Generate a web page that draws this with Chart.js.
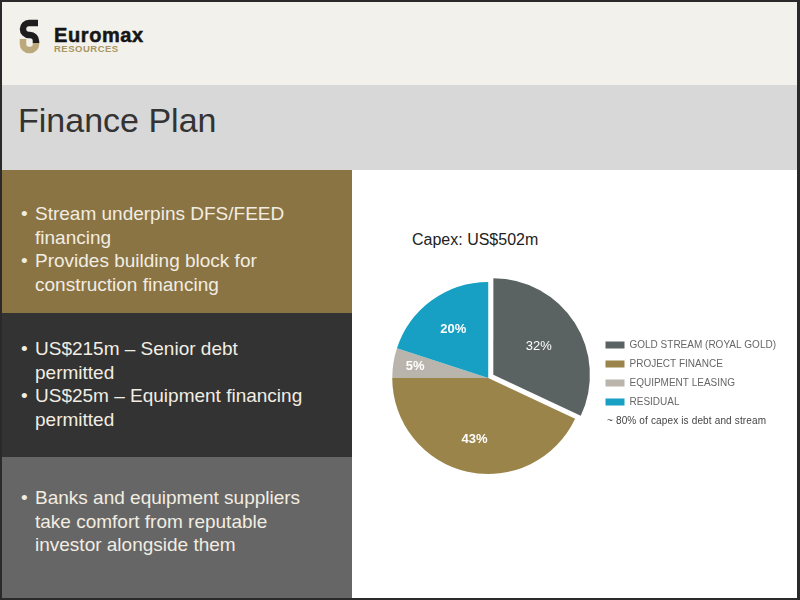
<!DOCTYPE html>
<html>
<head>
<meta charset="utf-8">
<script src="https://cdn.jsdelivr.net/npm/chart.js@4"></script>
<style>
  body { margin: 0; width: 800px; height: 600px; overflow: hidden; font-family: "Liberation Sans", Arial, sans-serif; }
  #slide { position: relative; width: 800px; height: 600px; background: #fff; }
  #header { position: absolute; left: 0; top: 0; width: 800px; height: 85px; background: #f3f1ec; }
  #band { position: absolute; left: 0; top: 85px; width: 800px; height: 85px; background: #d8d8d8; }
  #title { position: absolute; left: 18px; top: 101px; font-size: 34px; color: #333; white-space: nowrap; }
  #brand { position: absolute; left: 54px; top: 24px; font-size: 20px; font-weight: bold; color: #161616; letter-spacing: 0.6px; line-height: 23px; -webkit-text-stroke: 0.5px #161616; }
  #brand2 { position: absolute; left: 54px; top: 43px; font-size: 9.5px; font-weight: bold; color: #a9955e; letter-spacing: 0.5px; line-height: 11px; }
  .block { position: absolute; left: 0; width: 352px; box-sizing: border-box; color: #f2ede2; font-size: 19px; line-height: 23.5px; white-space: nowrap; }
  .block div { position: relative; padding-left: 35px; }
  .block div:before { content: "\2022"; position: absolute; left: 21px; }
  #b1 { top: 170px; height: 143px; background: #8a7444; padding-top: 32px; }
  #b2 { top: 313px; height: 144px; background: #333333; padding-top: 24px; }
  #b3 { top: 457px; height: 143px; background: #666666; padding-top: 29px; }
  #capex { position: absolute; left: 412px; top: 231px; font-size: 16px; color: #222; }
  #note { position: absolute; left: 607px; top: 415px; font-size: 10px; letter-spacing: 0.15px; color: #444; }
  #chartBox { position: absolute; left: 352px; top: 170px; width: 445px; height: 428px; }
  #frame { position: absolute; left: 0; top: 0; width: 800px; height: 600px; box-sizing: border-box; border: 2px solid #2a2a2a; border-right-width: 3px; pointer-events: none; }
</style>
</head>
<body>
<div id="slide">
  <div id="header"></div>
  <svg style="position:absolute;left:0;top:0" width="60" height="70">
    <path d="M23 39 V44 A6 6 0 0 0 29 50 H30 A6 6 0 0 0 36 44 V42" fill="none" stroke="#bba97c" stroke-width="6.5"/>
    <path d="M38 23 H29 A6 6 0 0 0 29 35 H30 A6 6 0 0 1 36 41 V43" fill="none" stroke="#1e1e1e" stroke-width="6.5"/>
  </svg>
  <div id="brand">Euromax</div>
  <div id="brand2">RESOURCES</div>
  <div id="band"></div>
  <div id="title">Finance Plan</div>

  <div class="block" id="b1">
    <div>Stream underpins DFS/FEED<br>financing</div>
    <div>Provides building block for<br>construction financing</div>
  </div>
  <div class="block" id="b2">
    <div>US$215m – Senior debt<br>permitted</div>
    <div>US$25m – Equipment financing<br>permitted</div>
  </div>
  <div class="block" id="b3">
    <div>Banks and equipment suppliers<br>take comfort from reputable<br>investor alongside them</div>
  </div>

  <div id="capex">Capex: US$502m</div>
  <div id="chartBox"><canvas id="capexChart"></canvas></div>
  <div id="note">~ 80% of capex is debt and stream</div>
  <div id="frame"></div>
</div>

<script>
// capex split, percent
var categories = ['GOLD STREAM (ROYAL GOLD)', 'PROJECT FINANCE', 'EQUIPMENT LEASING', 'RESIDUAL'];
var shares = [32, 43, 5, 20];
var sliceColors = ['#5a6262', '#9b8449', '#b9b4ac', '#17a0c4'];

// label distance from centre, as a part of the radius
var labelSpots = [0.56, 0.66, 0.77, 0.62];

var pieLabels = {
    id: 'pieLabels',
    afterDatasetsDraw: function (chart) {
        var ctx = chart.ctx;
        var meta = chart.getDatasetMeta(0);
        ctx.save();
        ctx.fillStyle = '#ffffff';
        ctx.textAlign = 'center';
        ctx.textBaseline = 'middle';
        meta.data.forEach(function (arc, i) {
            var mid = (arc.startAngle + arc.endAngle) / 2;
            // chart.js v4 moves an offset slice by a quarter of its offset
            var off = (arc.options.offset || 0) / 4;
            var r = arc.outerRadius * labelSpots[i] + off;
            var x = arc.x + Math.cos(mid) * r;
            var y = arc.y + Math.sin(mid) * r;
            ctx.font = (i === 0 ? 'normal ' : 'bold ') + '13px "Liberation Sans", Arial, sans-serif';
            ctx.fillText(shares[i] + '%', x, y);
        });
        ctx.restore();
    }
};

var ctx = document.getElementById('capexChart').getContext('2d');
var capexChart = new Chart(ctx, {
    type: 'pie',
    data: {
        labels: categories,
        datasets: [{
            data: shares,
            backgroundColor: sliceColors,
            borderWidth: 0,
            offset: [24, 0, 0, 0]
        }]
    },
    options: {
        responsive: true,
        maintainAspectRatio: false,
        animation: false,
        layout: {
            padding: { left: 28, right: 11, top: 100, bottom: 112 }
        },
        plugins: {
            legend: {
                position: 'right',
                align: 'start',
                title: { display: true, text: ' ', padding: 24.5, font: { size: 10 } },
                labels: {
                    boxWidth: 19,
                    boxHeight: 7,
                    padding: 9,
                    color: '#666666',
                    font: { family: '"Liberation Sans", Arial, sans-serif', size: 10 }
                }
            },
            tooltip: { enabled: false }
        }
    },
    plugins: [pieLabels]
});
</script>
</body>
</html>
